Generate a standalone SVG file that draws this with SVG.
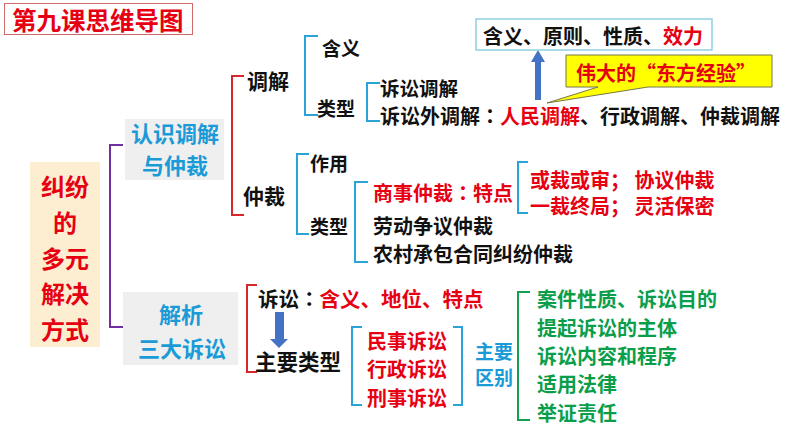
<svg xmlns="http://www.w3.org/2000/svg" width="794" height="447" viewBox="0 0 794 447">
<style>
text{font-family:"Noto Sans CJK SC","Noto Sans",sans-serif;font-weight:bold;dominant-baseline:central}
.c{font-family:"Noto Sans CJK TC","Noto Sans CJK SC",sans-serif}
.k{fill:#111}
.r{fill:#e60012}
.b{fill:#1a9bd7}
.g{fill:#0a9e4a}
.f19{font-size:19px}
.f20{font-size:20px}
.f21{font-size:21px}
.f22{font-size:22px}
.f24{font-size:24px}
.mid{text-anchor:middle}
.br{fill:none;stroke-width:2}
.bb{stroke:#2aa3d8}
.bred{stroke:#d9262b}
.bp{stroke:#7030a0}
.bg{stroke:#12a050}
.gray{fill:#efefef}
</style>
<rect width="794" height="447" fill="#ffffff"/>

<g id="title">
<rect x="4.5" y="3.5" width="188" height="31" fill="#fff" stroke="#d06a6a" stroke-width="1"/>
<text x="12" y="19" class="r" font-size="24.5">第九课思维导图</text>
</g>

<g id="root">
<rect x="30" y="162" width="70" height="185" fill="#fdeed2"/>
<text class="r f24 mid" x="65" y="185">纠纷</text>
<text class="r f24 mid" x="65" y="221">的</text>
<text class="r f24 mid" x="65" y="257">多元</text>
<text class="r f24 mid" x="65" y="292">解决</text>
<text class="r f24 mid" x="65" y="328">方式</text>
</g>

<g id="connectors">
<path class="br bp" d="M123,145 H110 V327 H123"/>
<path class="br bred" d="M244,76 H232 V215 H244"/>
<path class="br bb" d="M318,36 H305 V115 H318"/>
<path class="br bb" d="M380,83 H367 V121 H380"/>
<path class="br bb" d="M309,154 H297 V234 H309"/>
<path class="br bb" d="M368,182 H355 V262 H368"/>
<path class="br bb" d="M528,162 H518 V213 H528"/>
<path class="br bred" d="M257,285 H247 V372 H257"/>
<path class="br bb" d="M362,327 H352 V405 H362"/>
<path class="br bb" d="M453,327 H462 V405 H453"/>
<path class="br bg" d="M530,292 H518 V420 H530"/>
<polygon points="535,100 541,100 541,62 545,62 538,50 531,62 535,62" fill="#4472c4"/>
<polygon points="275,312 284,312 284,339 288,339 279,348 270,339 275,339" fill="#4472c4"/>
</g>

<g id="n-mediation-arbitration">
<rect x="125" y="119" width="99" height="61" class="gray"/>
<text class="b f22 mid" x="175" y="132">认识调解</text>
<text class="b f22 mid" x="175" y="164">与仲裁</text>
</g>

<g id="n-litigation">
<rect x="123" y="292" width="115" height="73" class="gray"/>
<text class="b f22 mid" x="181" y="313">解析</text>
<text class="b f22 mid" x="182" y="347">三大诉讼</text>
</g>

<g id="n-tiaojie"><text class="k f21" x="247" y="80">调解</text></g>
<g id="n-hanyi"><text class="k f19" x="322" y="47">含义</text></g>
<g id="n-leixing1"><text class="k f19" x="317" y="107">类型</text></g>
<g id="n-susongtiaojie"><text class="k" font-size="19.5" x="380" y="87">诉讼调解</text></g>
<g id="n-suwai"><text class="k f20" x="380" y="115">诉讼外调解<tspan class="c">：</tspan><tspan class="r">人民调解</tspan>、行政调解、仲裁调解</text></g>

<g id="n-top">
<rect x="476" y="19" width="236" height="31" fill="#fff" stroke="#8fd0e2" stroke-width="1.5"/>
<text class="k f20" x="483" y="35">含义、原则、性质、<tspan class="r">效力</tspan></text>
</g>

<g id="n-callout">
<path d="M566,55 H772 V87 H648 L547,103 L598,87 H566 Z" fill="#ffff00" stroke="#77774a" stroke-width="1"/>
<text class="r f20" x="576" y="72">伟大的“东方经验”</text>
</g>

<g id="n-zhongcai"><text class="k f21" x="243" y="195">仲裁</text></g>
<g id="n-zuoyong"><text class="k f19" x="310" y="162">作用</text></g>
<g id="n-leixing2"><text class="k f19" x="310" y="225">类型</text></g>
<g id="n-shangshi"><text class="r f20" x="373" y="192">商事仲裁<tspan class="c">：</tspan>特点</text></g>
<g id="n-laodong"><text class="k f20" x="373" y="225">劳动争议仲裁</text></g>
<g id="n-nongcun"><text class="k f20" x="373" y="253">农村承包合同纠纷仲裁</text></g>
<g id="n-te1"><text class="r f20" x="530" y="179">或裁或审； 协议仲裁</text></g>
<g id="n-te2"><text class="r f20" x="530" y="205">一裁终局； 灵活保密</text></g>

<g id="n-susong"><text class="k" font-size="20.5" x="258" y="298">诉讼<tspan class="c">：</tspan><tspan class="r">含义、地位、特点</tspan></text></g>
<g id="n-zhuyaoleixing"><text class="k" font-size="21.5" x="255" y="360">主要类型</text></g>
<g id="n-types">
<text class="r f20" x="367" y="340">民事诉讼</text>
<text class="r f20" x="367" y="368">行政诉讼</text>
<text class="r f20" x="367" y="397">刑事诉讼</text>
</g>
<g id="n-qubie">
<text class="b f19" x="475" y="350">主要</text>
<text class="b f19" x="475" y="376">区别</text>
</g>
<g id="n-diffs">
<text class="g f20" x="537" y="298">案件性质、诉讼目的</text>
<text class="g f20" x="537" y="327">提起诉讼的主体</text>
<text class="g f20" x="537" y="355">诉讼内容和程序</text>
<text class="g f20" x="537" y="383">适用法律</text>
<text class="g f20" x="537" y="412">举证责任</text>
</g>
</svg>
